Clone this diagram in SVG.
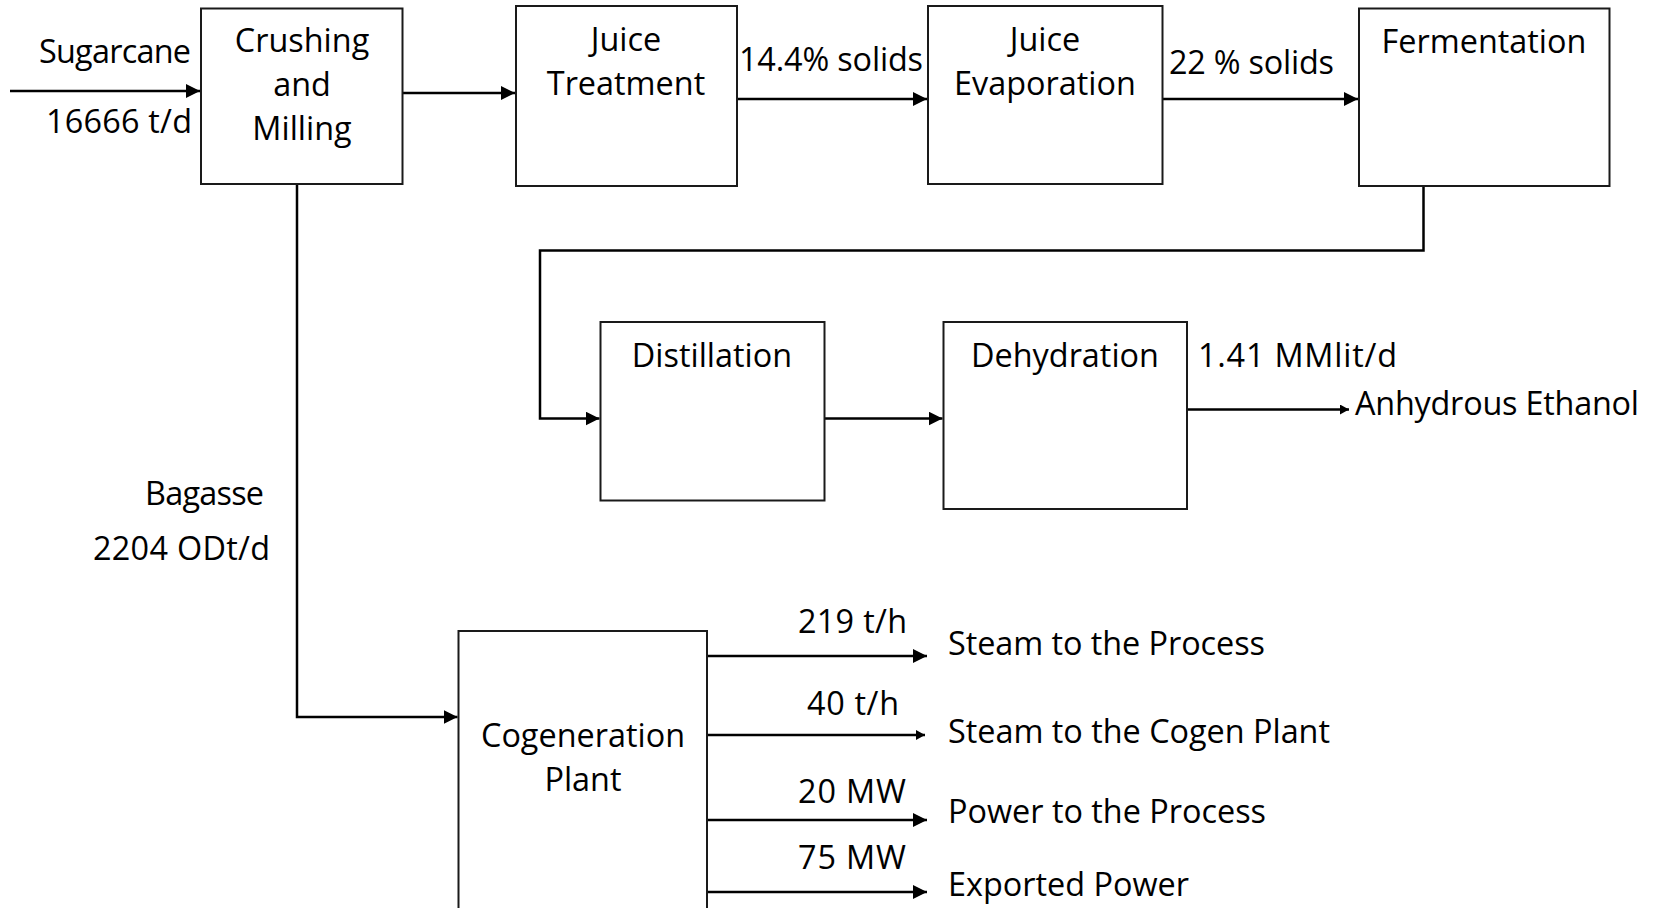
<svg xmlns="http://www.w3.org/2000/svg" width="1657" height="908" viewBox="0 0 1657 908">
<defs>
<style>
.box{fill:#fff;stroke:#1a1a1a;stroke-width:2}
.t{font-family:"Open Sans","Liberation Sans",sans-serif;font-size:32.4px;fill:#000}
.c{text-anchor:middle}
.ln{fill:none;stroke:#000;stroke-width:2.5}
</style>
<marker id="ah" markerWidth="14" markerHeight="14" refX="14" refY="7" orient="auto" markerUnits="userSpaceOnUse"><path d="M0,0 L14,7 L0,14 Z" fill="#000"/></marker>
<marker id="as" markerWidth="9" markerHeight="10" refX="9" refY="5" orient="auto" markerUnits="userSpaceOnUse"><path d="M0,0 L9,5 L0,10 Z" fill="#000"/></marker>
</defs>
<rect width="1657" height="908" fill="#fff"/>
<g id="connectors">
<path class="ln" d="M10,91 H200" marker-end="url(#ah)"/>
<path class="ln" d="M402,93 H515" marker-end="url(#ah)"/>
<path class="ln" d="M737,99 H927" marker-end="url(#ah)"/>
<path class="ln" d="M1162,99 H1358" marker-end="url(#ah)"/>
<path class="ln" d="M1423.5,186 V250.5 H540 V418.5 H599.5" marker-end="url(#ah)"/>
<path class="ln" d="M824.5,418.5 H942.5" marker-end="url(#ah)"/>
<path class="ln" d="M1187,409.5 H1349" marker-end="url(#as)"/>
<path class="ln" d="M297,184 V717 H457.5" marker-end="url(#ah)"/>
<path class="ln" d="M707,656 H927" marker-end="url(#ah)"/>
<path class="ln" d="M707,735 H925" marker-end="url(#as)"/>
<path class="ln" d="M707,820 H927" marker-end="url(#ah)"/>
<path class="ln" d="M707,892 H927" marker-end="url(#ah)"/>
</g>
<g id="crushing">
<rect class="box" x="201" y="8.5" width="201.5" height="175.5"/>
<text class="t c" x="302" y="52">Crushing</text>
<text class="t c" x="302" y="96">and</text>
<text class="t c" x="302" y="140">Milling</text>
</g>
<g id="juice-treatment">
<rect class="box" x="516" y="6" width="221" height="180"/>
<text class="t c" x="626" y="51">Juice</text>
<text class="t c" x="626" y="95">Treatment</text>
</g>
<g id="juice-evaporation">
<rect class="box" x="928" y="6" width="234.5" height="178"/>
<text class="t c" x="1045" y="51">Juice</text>
<text class="t c" x="1045" y="95">Evaporation</text>
</g>
<g id="fermentation">
<rect class="box" x="1359" y="8.5" width="250.5" height="177.5"/>
<text class="t c" x="1484" y="53">Fermentation</text>
</g>
<g id="distillation">
<rect class="box" x="600.5" y="322" width="224" height="178.5"/>
<text class="t c" x="712" y="367">Distillation</text>
</g>
<g id="dehydration">
<rect class="box" x="943.5" y="322" width="243.5" height="187"/>
<text class="t c" x="1065" y="367">Dehydration</text>
</g>
<g id="cogeneration">
<rect class="box" x="458.5" y="631" width="248.5" height="300"/>
<text class="t c" x="583" y="747">Cogeneration</text>
<text class="t c" x="583" y="791">Plant</text>
</g>
<g id="labels">
<text class="t" x="39" y="63" textLength="152" lengthAdjust="spacing">Sugarcane</text>
<text class="t" x="46" y="133" textLength="146" lengthAdjust="spacing">16666 t/d</text>
<text class="t" x="739" y="71" textLength="184" lengthAdjust="spacing">14.4% solids</text>
<text class="t" x="1169" y="74" textLength="165" lengthAdjust="spacing">22 % solids</text>
<text class="t" x="1198" y="367" textLength="199" lengthAdjust="spacing">1.41 MMlit/d</text>
<text class="t" x="1355" y="415" textLength="284" lengthAdjust="spacing">Anhydrous Ethanol</text>
<text class="t" x="145" y="505" textLength="119" lengthAdjust="spacing">Bagasse</text>
<text class="t" x="93" y="560" textLength="177" lengthAdjust="spacing">2204 ODt/d</text>
<text class="t" x="798" y="633" textLength="109" lengthAdjust="spacing">219 t/h</text>
<text class="t" x="807" y="715" textLength="92" lengthAdjust="spacing">40 t/h</text>
<text class="t" x="798" y="803" textLength="108" lengthAdjust="spacing">20 MW</text>
<text class="t" x="798" y="869" textLength="108" lengthAdjust="spacing">75 MW</text>
<text class="t" x="948" y="655" textLength="317" lengthAdjust="spacing">Steam to the Process</text>
<text class="t" x="948" y="743" textLength="382" lengthAdjust="spacing">Steam to the Cogen Plant</text>
<text class="t" x="948" y="823" textLength="318" lengthAdjust="spacing">Power to the Process</text>
<text class="t" x="948" y="896" textLength="241" lengthAdjust="spacing">Exported Power</text>
</g>
</svg>
